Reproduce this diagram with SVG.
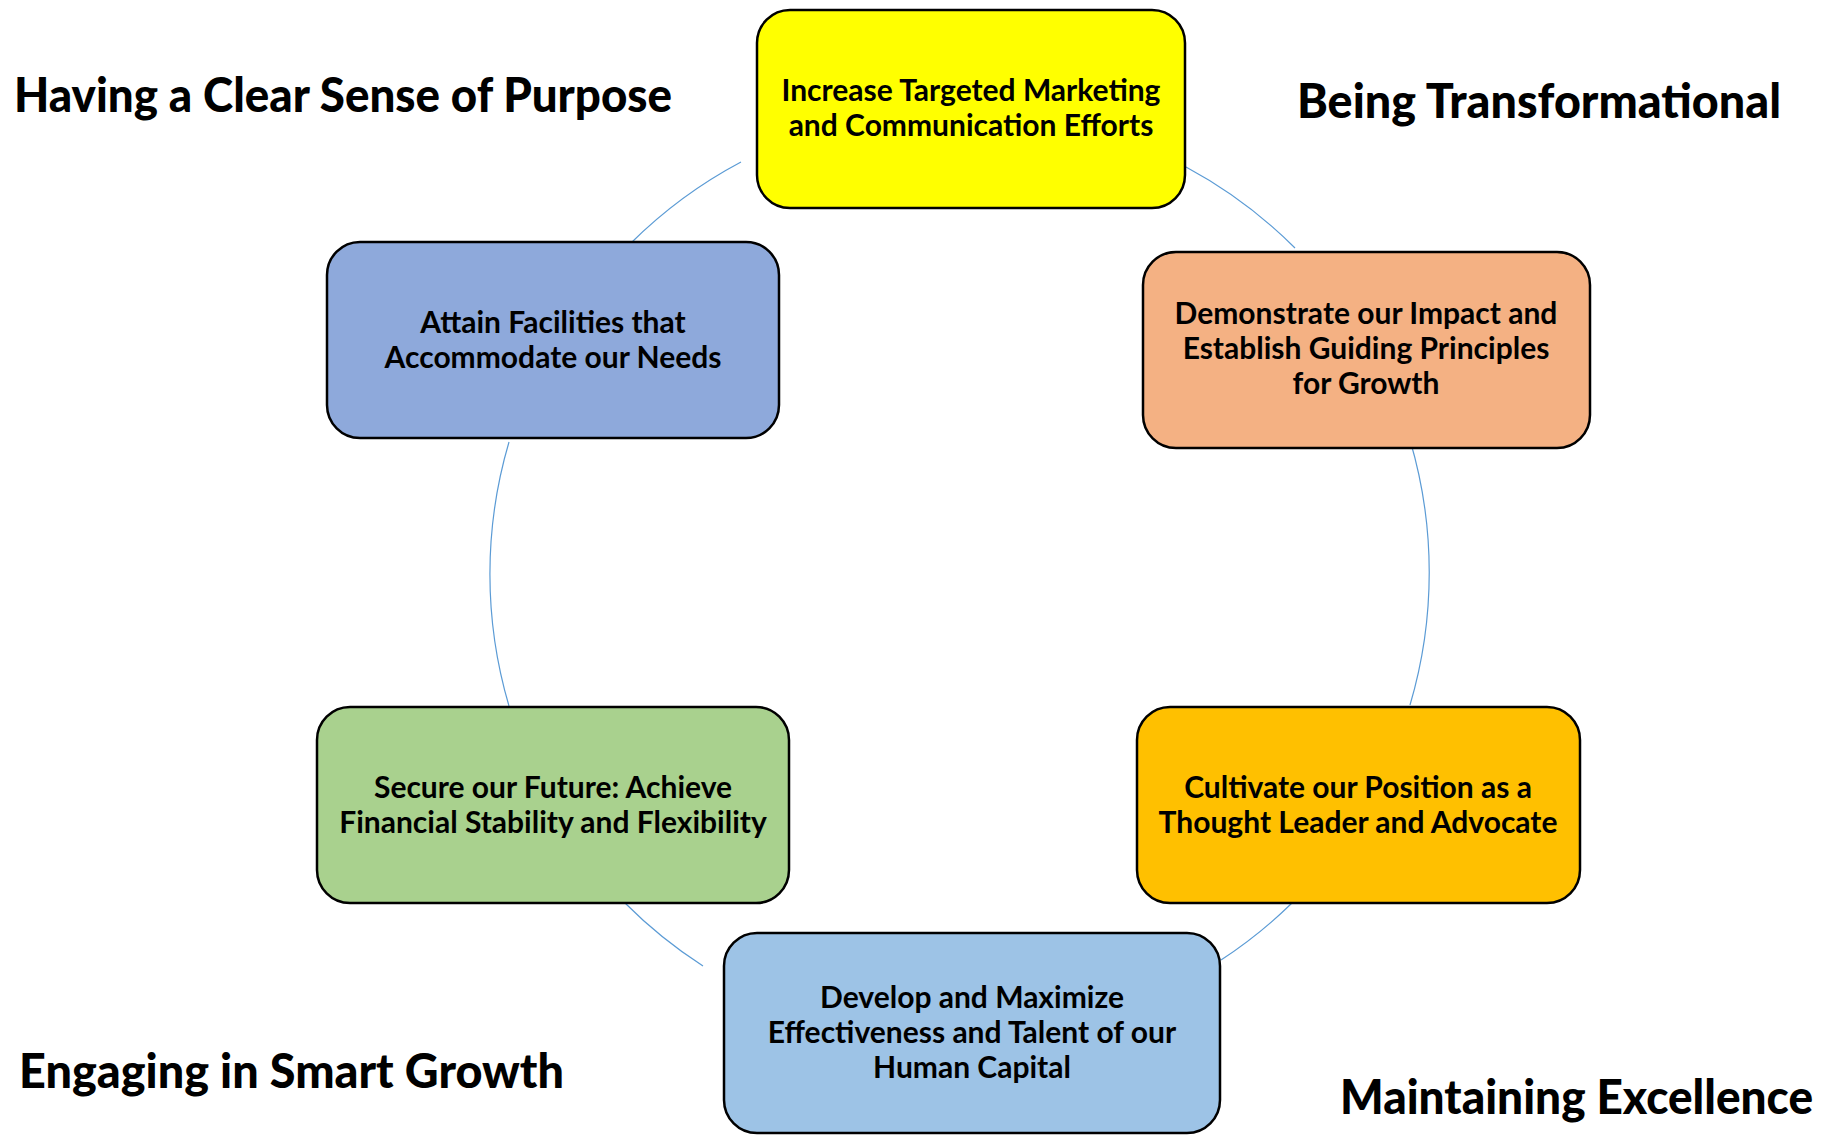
<svg xmlns="http://www.w3.org/2000/svg" width="1832" height="1135" viewBox="0 0 1832 1135">
<style>
.box{stroke:#000;stroke-width:2.5}
.t{font-family:Lato,"Liberation Sans",sans-serif;font-weight:bold;font-size:30px;fill:#000;text-anchor:middle}
.h{font-family:Lato,"Liberation Sans",sans-serif;font-weight:900;font-size:48px;fill:#000}
.c{fill:none;stroke:#5B9BD5;stroke-width:1.2}
</style>
<rect width="1832" height="1135" fill="#fff"/>
<g id="connectors">
<path class="c" d="M 1186 167 A 466 466 0 0 1 1295 248"/>
<path class="c" d="M 1410 440 A 466 466 0 0 1 1410 705"/>
<path class="c" d="M 1292 903 A 466 466 0 0 1 1221 960"/>
<path class="c" d="M 703 966 A 466 466 0 0 1 625 903"/>
<path class="c" d="M 509 706 A 466 466 0 0 1 509 442"/>
<path class="c" d="M 631 243 A 466 466 0 0 1 741 162"/>
</g>
<g id="node-marketing">
<rect class="box" x="757" y="10" width="428" height="198" rx="33" fill="#FFFF00"/>
<text class="t" x="971" y="101">Increase Targeted Marketing</text>
<text class="t" x="971" y="136">and Communication Efforts</text>
</g>
<g id="node-impact">
<rect class="box" x="1143" y="252" width="447" height="196" rx="33" fill="#F4B183"/>
<text class="t" x="1366" y="324">Demonstrate our Impact and</text>
<text class="t" x="1366" y="359">Establish Guiding Principles</text>
<text class="t" x="1366" y="394">for Growth</text>
</g>
<g id="node-thought">
<rect class="box" x="1137" y="707" width="443" height="196" rx="33" fill="#FFC000"/>
<text class="t" x="1358" y="798">Cultivate our Position as a</text>
<text class="t" x="1358" y="833">Thought Leader and Advocate</text>
</g>
<g id="node-human">
<rect class="box" x="724" y="933" width="496" height="200" rx="33" fill="#9DC3E6"/>
<text class="t" x="972" y="1008">Develop and Maximize</text>
<text class="t" x="972" y="1043">Effectiveness and Talent of our</text>
<text class="t" x="972" y="1078">Human Capital</text>
</g>
<g id="node-future">
<rect class="box" x="317" y="707" width="472" height="196" rx="33" fill="#A9D18E"/>
<text class="t" x="553" y="798">Secure our Future: Achieve</text>
<text class="t" x="553" y="833">Financial Stability and Flexibility</text>
</g>
<g id="node-facilities">
<rect class="box" x="327" y="242" width="452" height="196" rx="33" fill="#8EA9DB"/>
<text class="t" x="553" y="333">Attain Facilities that</text>
<text class="t" x="553" y="368">Accommodate our Needs</text>
</g>
<g id="titles">
<text class="h" x="14" y="112" textLength="658" lengthAdjust="spacingAndGlyphs">Having a Clear Sense of Purpose</text>
<text class="h" x="1297" y="118" textLength="484" lengthAdjust="spacingAndGlyphs">Being Transformational</text>
<text class="h" x="19" y="1088" textLength="545" lengthAdjust="spacingAndGlyphs">Engaging in Smart Growth</text>
<text class="h" x="1340" y="1114" textLength="473" lengthAdjust="spacingAndGlyphs">Maintaining Excellence</text>
</g>
</svg>
